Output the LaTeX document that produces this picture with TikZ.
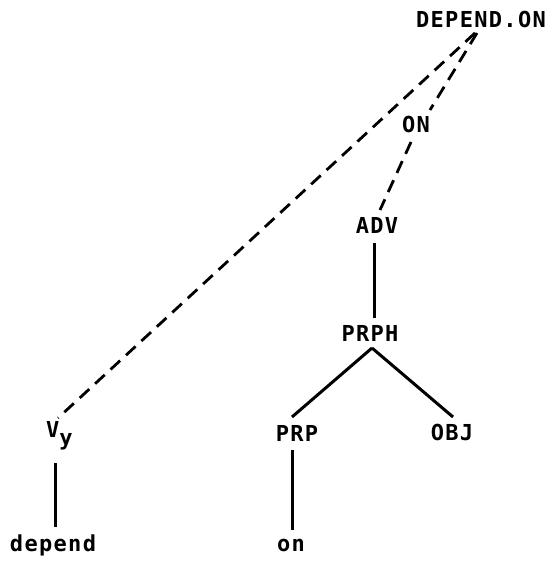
\documentclass[tikz,border=0pt]{standalone}
\usepackage{fontspec}
\setmonofont[LetterSpace=6]{DejaVu Sans Mono}
\begin{document}
\begin{tikzpicture}[x=1pt,y=1pt,
  lab/.style={font=\ttfamily\bfseries\fontsize{22}{22}\selectfont, inner sep=0pt},
  arc/.style={line width=3pt},
  darc/.style={line width=2.8pt, dash pattern=on 13pt off 8pt}]
\useasboundingbox (0,0) rectangle (550,565);

% labels of the tree
\node[lab] (dep)  at (481,546) {DEPEND.ON};
\node[lab] (on)   at (416,441) {ON};
\node[lab] (adv)  at (377,340) {ADV};
\node[lab] (prph) at (370,232) {PRPH};
\node[lab, anchor=base west] (vy) at (46,127) {V\raisebox{-8pt}{y}};
\node[lab] (prp)  at (297,132) {PRP};
\node[lab] (obj)  at (452,133) {OBJ};
\node[lab] (depend) at (53,20) {depend};
\node[lab] (onw)  at (291,20) {on};

% dashed links
\draw[darc] ([shift={(-6,-14)}]dep.center) -- ([shift={(12,20)}]vy.base west);
\draw[darc] ([shift={(-4,-14)}]dep.center) -- ([shift={(14,14)}]on.center);
\draw[darc] ([shift={(-5,-18)}]on.center) -- ([shift={(3,15)}]adv.center);

% solid links
\draw[arc] ([shift={(-3,-18)}]adv.center) -- ([shift={(4,15)}]prph.center);
\draw[arc] ([shift={(2,-15)}]prph.center) -- ([shift={(-5,16)}]prp.center);
\draw[arc] ([shift={(2,-15)}]prph.center) -- ([shift={(1,15)}]obj.center);
\draw[arc] ([shift={(9,-25)}]vy.base west) -- ([shift={(2,18)}]depend.center);
\draw[arc] ([shift={(-5,-17)}]prp.center) -- ([shift={(1,15)}]onw.center);
\end{tikzpicture}
\end{document}
